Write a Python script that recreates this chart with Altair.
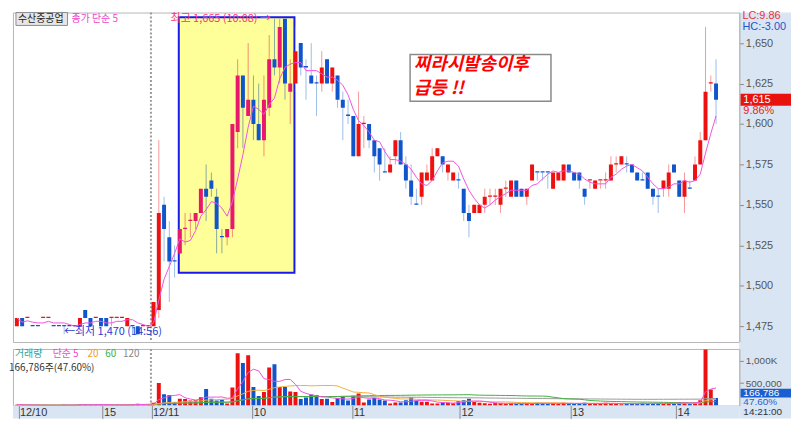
import altair as alt
import pandas as pd

# ---------------- data (3-minute candles, 12/10 afternoon .. 12/11 14:21) ----------------
opens = [
    1475, 1480, 1480, 1475, 1475, 1480, 1480, 1475, 1475, 1475, 1475, 1475, 1475, 1485, 1480, 1480, 1480, 1480, 1480, 1480,
    1480, 1475, 1475, 1475, 1475, 1475,
    1475, 1485, 1550, 1530, 1515, 1520, 1535, 1540, 1540, 1545, 1560, 1565, 1555, 1530, 1530, 1535, 1595, 1630, 1605, 1615,
    1600, 1590, 1610, 1640, 1635, 1665, 1620, 1625, 1650, 1635, 1630, 1625, 1625, 1640, 1625, 1630, 1615, 1605, 1605, 1580,
    1600, 1600, 1590, 1585, 1570, 1570, 1580, 1590, 1575, 1565,
    1550, 1555, 1565, 1565, 1580, 1580, 1570, 1565, 1565, 1560, 1545, 1545, 1545, 1550, 1555, 1555, 1550, 1560, 1555, 1565,
    1560, 1555, 1565, 1570, 1570, 1570, 1560, 1565, 1565, 1575, 1570, 1570, 1560, 1565, 1560, 1565, 1565, 1565, 1575, 1575,
    1575, 1575, 1570, 1565, 1570, 1560, 1555, 1560, 1560, 1575, 1565, 1555, 1560, 1565, 1575, 1590, 1625, 1625,
]
highs = [
    1480, 1480, 1480, 1475, 1475, 1480, 1480, 1475, 1475, 1475, 1475, 1475, 1480, 1485, 1480, 1480, 1480, 1480, 1480, 1480,
    1480, 1480, 1475, 1475, 1475, 1475,
    1490, 1590, 1555, 1540, 1525, 1535, 1545, 1545, 1545, 1560, 1575, 1570, 1560, 1535, 1535, 1600, 1640, 1630, 1650, 1630,
    1625, 1630, 1655, 1665, 1665, 1665, 1640, 1660, 1650, 1640, 1650, 1630, 1645, 1640, 1635, 1630, 1620, 1615, 1605, 1620,
    1605, 1600, 1590, 1585, 1585, 1580, 1590, 1595, 1580, 1575,
    1560, 1570, 1575, 1585, 1585, 1580, 1575, 1570, 1570, 1560, 1550, 1550, 1550, 1560, 1560, 1560, 1560, 1565, 1565, 1565,
    1560, 1560, 1575, 1570, 1570, 1570, 1570, 1570, 1575, 1575, 1570, 1570, 1560, 1565, 1565, 1565, 1570, 1580, 1580, 1580,
    1580, 1575, 1570, 1570, 1570, 1560, 1560, 1565, 1575, 1575, 1565, 1570, 1565, 1580, 1595, 1660, 1630, 1640,
]
lows = [
    1475, 1475, 1480, 1475, 1475, 1480, 1480, 1475, 1475, 1470, 1475, 1475, 1475, 1480, 1475, 1480, 1475, 1475, 1475, 1480,
    1480, 1475, 1470, 1470, 1475, 1475,
    1475, 1480, 1515, 1490, 1505, 1520, 1525, 1530, 1535, 1545, 1540, 1555, 1520, 1520, 1525, 1530, 1585, 1585, 1605, 1590,
    1590, 1580, 1605, 1630, 1625, 1615, 1600, 1620, 1630, 1615, 1625, 1605, 1620, 1625, 1620, 1610, 1590, 1600, 1580, 1580,
    1585, 1585, 1570, 1565, 1570, 1570, 1575, 1575, 1560, 1550,
    1550, 1550, 1565, 1565, 1580, 1570, 1565, 1565, 1560, 1540, 1530, 1545, 1545, 1545, 1550, 1550, 1545, 1555, 1555, 1555,
    1555, 1550, 1565, 1565, 1565, 1560, 1560, 1565, 1565, 1570, 1565, 1560, 1550, 1560, 1560, 1560, 1560, 1565, 1570, 1575,
    1570, 1570, 1565, 1565, 1560, 1550, 1545, 1555, 1555, 1570, 1555, 1545, 1560, 1565, 1575, 1590, 1620, 1600,
]
closes = [
    1480, 1475, 1480, 1475, 1475, 1480, 1480, 1475, 1475, 1475, 1475, 1475, 1480, 1480, 1475, 1480, 1475, 1475, 1480, 1480,
    1480, 1480, 1475, 1470, 1475, 1475,
    1490, 1545, 1535, 1515, 1515, 1535, 1535, 1540, 1545, 1560, 1555, 1560, 1535, 1530, 1535, 1600, 1630, 1610, 1615, 1600,
    1590, 1615, 1640, 1635, 1660, 1625, 1625, 1645, 1635, 1635, 1625, 1625, 1635, 1625, 1635, 1615, 1610, 1605, 1580, 1600,
    1600, 1590, 1580, 1575, 1570, 1575, 1590, 1575, 1565, 1555,
    1550, 1570, 1570, 1580, 1585, 1575, 1575, 1570, 1565, 1545, 1540, 1550, 1550, 1555, 1555, 1555, 1560, 1560, 1565, 1555,
    1555, 1560, 1575, 1570, 1570, 1570, 1570, 1570, 1575, 1570, 1565, 1565, 1555, 1565, 1565, 1565, 1565, 1575, 1575, 1580,
    1575, 1570, 1565, 1565, 1560, 1555, 1555, 1565, 1570, 1570, 1555, 1565, 1560, 1575, 1590, 1620, 1625, 1615,
]
volumes_k = [
    20, 15, 5, 5, 5, 10, 8, 5, 5, 20, 10, 10, 25, 30, 20, 10, 20, 20, 10, 10, 10, 20, 30, 40, 20, 30,
    60, 500, 253, 233, 80, 153, 147, 113, 120, 187, 367, 153, 113, 133, 47,
    400, 1167, 947, 1120, 413, 213, 300, 847, 920, 413, 413, 313, 300, 147, 180,
    247, 233, 147, 153, 80, 167, 200, 113, 220, 267, 67, 133, 167, 133, 113, 47, 67, 67, 120, 180,
    113, 87, 87, 47, 47, 67, 60, 50, 100, 120, 150, 80, 60, 50, 40, 60, 50, 40, 50, 40,
    40, 50, 40, 60, 50, 40, 50, 40, 60, 50, 40, 50, 60, 40, 50, 40, 60, 50, 40, 30,
    40, 50, 40, 60, 50, 40, 50, 40, 60, 50, 80, 60, 40, 60, 120, 1250, 360, 167,
]

# time axis labels (candle-index positions)
tick_pos = [0.3, 16.3, 25.6, 44.8, 63.8, 84.3, 105.3, 125.4]
tick_lab = ["12/10", "15", "12/11", "10", "11", "12", "13", "14"]

# highlighted box (index range, price range) and notes
box_x = [30.8, 52.8]
box_p = [1508, 1666]
note_x = [74.8, 101.6]
note_p = [1614, 1643]

# ---------------- layout / style ----------------
W, H, HV, COL, GAP, BAND = 732, 332, 57, 52, 7, 13
FONT = "Noto Sans CJK KR"
NUM = "Liberation Sans"
UP, DN, UP_BOX = "#ee1111", "#1155cc", "#e8186c"
UPW, DNW, UPW_BOX, DNW_BOX = "#f49a9a", "#9cbde8", "#f0906e", "#8aa89c"
PANEL = "#d9e5f2"

n = len(opens)
rows = []
prev_d = "up"
for k in range(n):
    o, c = opens[k], closes[k]
    if c > o:
        d = "up"
    elif c < o:
        d = "down"
    else:
        prev = closes[k - 1] if k > 0 else o
        d = "up" if c > prev else ("down" if c < prev else prev_d)
    prev_d = d
    inbox = box_x[0] <= k <= box_x[1]
    lo, hi = min(o, c), max(o, c)
    if hi == lo:
        hi = lo + 0.8
    body = (UP_BOX if inbox else UP) if d == "up" else DN
    wick = (UPW_BOX if inbox else UPW) if d == "up" else (DNW_BOX if inbox else DNW)
    rows.append(dict(i=k, open=o, high=highs[k], low=lows[k], close=c, lo=lo, hi=hi,
                     body=body, wick=wick, vcol=(UP if d == "up" else DN), vol=volumes_k[k] * 1000))
df = pd.DataFrame(rows)
one = pd.DataFrame({"a": [0]})

xs = alt.Scale(domain=[0.2, 136.5], nice=False, zero=False)
ys = alt.Scale(domain=[1465.2, 1668.9], nice=False, zero=False)
yax = alt.Axis(orient="right", values=[1475, 1500, 1525, 1550, 1575, 1600, 1625, 1650],
               labelExpr="format(datum.value, ',')",
               title=None, grid=False, tickSize=4, tickColor="#888", domainColor="#aaa",
               labelColor="#555", labelFontSize=11, labelFont=NUM, labelPadding=2, zindex=1)
Xp = alt.X("i:Q", scale=xs, axis=None)

base = alt.Chart(df)

col_bg = alt.Chart(one).mark_rect(color=PANEL).encode(
    x=alt.value(W), x2=alt.value(W + COL), y=alt.value(0), y2=alt.value(H + GAP))

hbox = alt.Chart(pd.DataFrame({"x": [box_x[0]], "x2": [box_x[1]], "y": [box_p[0]], "y2": [box_p[1]]})).mark_rect(
    fill="#ffff99", stroke="#1a1aee", strokeWidth=2).encode(
    x=alt.X("x:Q", scale=xs, axis=None), x2="x2:Q", y=alt.Y("y:Q", scale=ys, axis=yax), y2="y2:Q")

sep = alt.Chart(pd.DataFrame({"x": [25.5]})).mark_rule(color="#9a9a9a", strokeWidth=2, strokeDash=[2, 2]).encode(
    x=alt.X("x:Q", scale=xs, axis=None))

wicks = base.mark_rule(strokeWidth=1, clip=True).encode(
    x=Xp, y=alt.Y("low:Q", scale=ys, axis=yax), y2="high:Q", color=alt.Color("wick:N", scale=None))
bodies = base.mark_bar(size=4, clip=True).encode(
    x=Xp, y=alt.Y("lo:Q", scale=ys, axis=yax), y2="hi:Q", color=alt.Color("body:N", scale=None))
ma5 = base.transform_window(ma="mean(close)", frame=[-4, 0], sort=[alt.SortField("i")]).mark_line(
    color="#ee55dd", strokeWidth=1, clip=True).encode(x=Xp, y=alt.Y("ma:Q", scale=ys, axis=yax))

ann = pd.DataFrame({
    "x": [48.3, 9.0],
    "y": [1665, 1471.5],
    "t": ["최고 1,665 (10:08) →", "←최저 1,470 (14:56)"],
    "c": ["#ff3377", "#2a3ad0"],
})
hi_txt = alt.Chart(ann.iloc[[0]]).mark_text(align="right", baseline="middle", font=FONT, fontSize=11).encode(
    x=alt.X("x:Q", scale=xs, axis=None), y=alt.Y("y:Q", scale=ys, axis=yax), text="t:N",
    color=alt.Color("c:N", scale=None))
lo_txt = alt.Chart(ann.iloc[[1]]).mark_text(align="left", baseline="middle", font=FONT, fontSize=11).encode(
    x=alt.X("x:Q", scale=xs, axis=None), y=alt.Y("y:Q", scale=ys, axis=yax), text="t:N",
    color=alt.Color("c:N", scale=None))

note_bg = alt.Chart(pd.DataFrame({"x": [note_x[0]], "x2": [note_x[1]], "y": [note_p[0]], "y2": [note_p[1]]})).mark_rect(
    fill="white", stroke="#8a8a8a", strokeWidth=1.5).encode(
    x=alt.X("x:Q", scale=xs, axis=None), x2="x2:Q", y=alt.Y("y:Q", scale=ys, axis=yax), y2="y2:Q")
note_txt = alt.Chart(pd.DataFrame({"x": [75.5, 75.5], "y": [1636.2, 1621.4], "t": ["찌라시발송이후", "급등 !!"]})).mark_text(
    align="left", baseline="middle", font=FONT, fontSize=18, fontWeight="bold", fontStyle="italic", color="#ff0000").encode(
    x=alt.X("x:Q", scale=xs, axis=None), y=alt.Y("y:Q", scale=ys, axis=yax), text="t:N")

last = closes[-1]
cur_box = alt.Chart(one).mark_rect(color="#e8130f").encode(
    x=alt.value(W + 1), x2=alt.value(W + COL),
    y=alt.datum(last + 3.7, scale=ys, axis=yax), y2=alt.datum(last - 3.7))
cur_txt = alt.Chart(one).mark_text(align="left", baseline="middle", font=NUM, fontSize=11, color="white").encode(
    x=alt.value(W + 4), y=alt.datum(last, scale=ys, axis=yax), text=alt.value(f"{last:,}"))
pct_txt = alt.Chart(one).mark_text(align="left", baseline="middle", font=NUM, fontSize=11, color="#ee2222").encode(
    x=alt.value(W + 4), y=alt.datum(last - 7.0, scale=ys, axis=yax), text=alt.value("9.86%"))
lc_txt = alt.Chart(one).mark_text(align="left", baseline="middle", font=NUM, fontSize=11, color="#ee3333").encode(
    x=alt.value(W + 3), y=alt.value(4), text=alt.value("LC:9.86"))
hc_txt = alt.Chart(one).mark_text(align="left", baseline="middle", font=NUM, fontSize=11, color="#2255cc").encode(
    x=alt.value(W + 3), y=alt.value(15), text=alt.value("HC:-3.00"))

leg_box = alt.Chart(one).mark_rect(fill="#e6e6e6", stroke="#8c8c8c").encode(
    x=alt.value(3), x2=alt.value(55), y=alt.value(0), y2=alt.value(13))
leg1 = alt.Chart(one).mark_text(align="left", baseline="middle", font=FONT, fontSize=10, color="#222").encode(
    x=alt.value(5), y=alt.value(6.5), text=alt.value("수산중공업"))
leg2 = alt.Chart(one).mark_text(align="left", baseline="middle", font=FONT, fontSize=10, color="#ee44cc").encode(
    x=alt.value(59), y=alt.value(6.5), text=alt.value("종가 단순 5"))

price = alt.layer(col_bg, hbox, sep, wicks, bodies, ma5, hi_txt, lo_txt, note_bg, note_txt,
                  cur_box, cur_txt, pct_txt, lc_txt, hc_txt, leg_box, leg1, leg2).properties(width=W, height=H)

# ---------------- volume panel ----------------
vs = alt.Scale(domain=[0, 1260000], nice=False, zero=True)
vax = alt.Axis(orient="right", values=[500000, 1000000],
               labelExpr="datum.value >= 1000000 ? '1,000K' : format(datum.value, ',')",
               title=None, grid=False, tickSize=4, tickColor="#888", domainColor="#aaa",
               labelColor="#555", labelFontSize=10, labelFont=NUM, labelPadding=2, zindex=1)
expr = "''"
for p, l in reversed(list(zip(tick_pos, tick_lab))):
    expr = f"datum.value == {p} ? '{l}' : ({expr})"
xax = alt.Axis(orient="bottom", values=tick_pos, labelExpr=expr, title=None, grid=False, domain=False,
               tickSize=BAND, tickColor="#8a8a8a", labelPadding=-BAND + 1, labelAlign="left", labelBaseline="top",
               labelOffset=1, labelFontSize=11, labelFont=NUM, labelColor="#333",
               labelFlush=False, labelOverlap=False, labelBound=False, zindex=1)
Xv = alt.X("i:Q", scale=xs, axis=xax)

vcol_bg = alt.Chart(one).mark_rect(color=PANEL).encode(
    x=alt.value(W), x2=alt.value(W + COL), y=alt.value(-GAP), y2=alt.value(HV + BAND))
band_bg = alt.Chart(one).mark_rect(color=PANEL).encode(
    x=alt.value(0), x2=alt.value(W), y=alt.value(HV), y2=alt.value(HV + BAND))
vsep = alt.Chart(pd.DataFrame({"x": [25.5]})).mark_rule(color="#9a9a9a", strokeWidth=2, strokeDash=[2, 2]).encode(
    x=alt.X("x:Q", scale=xs, axis=xax), y=alt.value(0), y2=alt.value(HV))
vbase = alt.Chart(df)
vbars = vbase.mark_bar(size=4, clip=True).encode(
    x=Xv, y=alt.Y("vol:Q", scale=vs, axis=vax), color=alt.Color("vcol:N", scale=None))
ma_layers = []
for win, colr in [(120, "#9a9a9a"), (60, "#40b040"), (20, "#f0b040"), (5, "#ee55dd")]:
    ma_layers.append(
        vbase.transform_window(m="mean(vol)", frame=[-(win - 1), 0], sort=[alt.SortField("i")]).mark_line(
            color=colr, strokeWidth=1, clip=True).encode(x=Xv, y=alt.Y("m:Q", scale=vs, axis=vax)))

vleg = pd.DataFrame({
    "x": [2, 40, 75, 93, 111],
    "t": ["거래량", "단순 5", "20", "60", "120"],
    "c": ["#2aa4a4", "#ee44cc", "#f0a020", "#40b040", "#888888"],
})
vleg_txt = alt.Chart(vleg).mark_text(align="left", baseline="middle", font=FONT, fontSize=10).encode(
    x=alt.X("x:Q", scale=None), y=alt.value(5), text="t:N", color=alt.Color("c:N", scale=None))
vinfo = alt.Chart(one).mark_text(align="left", baseline="middle", font=FONT, fontSize=10, color="#333").encode(
    x=alt.value(-4), y=alt.value(19.5), text=alt.value("166,786주(47.60%)"))
vbox = alt.Chart(one).mark_rect(color="#1a5fd0").encode(
    x=alt.value(W + 1), x2=alt.value(W + COL), y=alt.value(40), y2=alt.value(49))
vbox_txt = alt.Chart(one).mark_text(align="left", baseline="middle", font=NUM, fontSize=10, color="white").encode(
    x=alt.value(W + 4), y=alt.value(44.5), text=alt.value("166,786"))
vpct_txt = alt.Chart(one).mark_text(align="left", baseline="middle", font=NUM, fontSize=10, color="#2a5fd0").encode(
    x=alt.value(W + 4), y=alt.value(53.5), text=alt.value("47.60%"))
time_txt = alt.Chart(one).mark_text(align="left", baseline="middle", font=NUM, fontSize=10, color="#333").encode(
    x=alt.value(W + 4), y=alt.value(HV + 7), text=alt.value("14:21:00"))

volume = alt.layer(vcol_bg, band_bg, vsep, vbars, *ma_layers, vleg_txt, vinfo, vbox, vbox_txt, vpct_txt,
                   time_txt).properties(width=W, height=HV)

chart = alt.vconcat(price, volume, spacing=GAP, bounds="flush").configure(
    padding=0, background="white").configure_view(stroke="#b5b5b5", strokeWidth=1)

chart.save("out.html", embed_options={"renderer": "svg", "actions": False})
